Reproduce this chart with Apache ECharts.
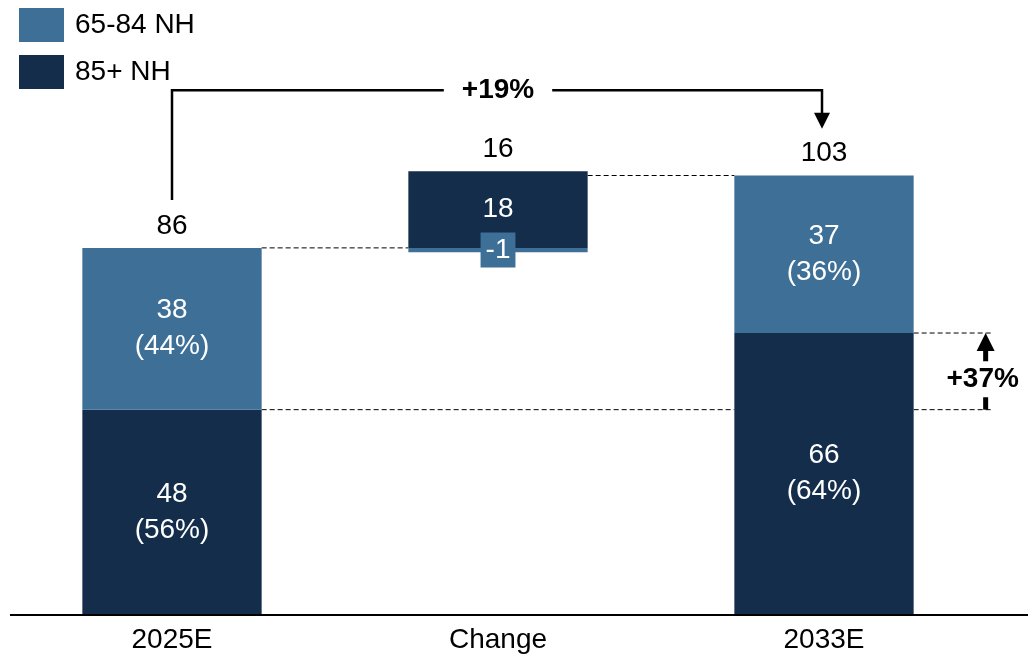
<!DOCTYPE html>
<html><head><meta charset="utf-8">
<script src="https://cdn.jsdelivr.net/npm/echarts@6/dist/echarts.min.js"></script>
<style>html,body{margin:0;padding:0;background:#fff}#c{width:1028px;height:658px}</style>
</head><body><div id="c"></div>
<script>
const categories = ['2025E', 'Change', '2033E'];
const baseVals = [0, 85, 0];            // invisible offset of the change bar
const lightChangeVals = ['-', 1, '-'];  // 65-84 NH change (drawn size)
const darkVals = [48, 18, 66];          // 85+ NH
const lightVals = [38, '-', 37];        // 65-84 NH
const darkLabels = ['48\n(56%)', '18', '66\n(64%)'];
const lightLabels = ['38\n(44%)', '-1', '37\n(36%)'];
const totalLabels = ['86', '16', '103'];
const totalGrowth = '+19%';
const oldGrowth = '+37%';
const totalStart = 86, totalEnd = 103, darkStart = 48, darkEnd = 66;

const LIGHT = '#3D6F97', DARK = '#132D4B';
const FONT = 'Liberation Sans, Arial, sans-serif';
const FS = 28;

const chart = echarts.init(document.getElementById('c'));
const lbl = (arr) => ({
  show: true, position: 'inside', color: '#fff', fontSize: FS, lineHeight: 36,
  fontFamily: FONT, formatter: p => arr[p.dataIndex]
});

chart.setOption({
  animation: false,
  textStyle: { fontFamily: FONT },
  legend: {
    orient: 'vertical', left: 19, top: 8, padding: 0, itemWidth: 45, itemHeight: 34, itemGap: 13,
    icon: 'rect', selectedMode: false,
    textStyle: { fontSize: FS, color: '#000', fontFamily: FONT, padding: [5, 0, 0, 6] },
    data: ['65-84 NH', '85+ NH']
  },
  grid: { left: 9, right: 41, top: 18, bottom: 44 },
  xAxis: {
    type: 'category', data: categories,
    axisLine: { show: false }, axisTick: { show: false },
    axisLabel: { fontSize: FS, color: '#000', margin: 12, fontFamily: FONT }
  },
  yAxis: { type: 'value', min: 0, max: 140, show: false, splitLine: { show: false } },
  series: [
    { name: 'base', type: 'bar', stack: 's', data: baseVals, barWidth: '55%',
      itemStyle: { color: 'transparent' }, silent: true },
    { name: '65-84 NH', type: 'bar', stack: 's', data: lightChangeVals,
      itemStyle: { color: LIGHT },
      label: Object.assign(lbl(lightLabels), { backgroundColor: LIGHT, padding: [4, 5, 3, 5], lineHeight: 28 }) },
    { name: '85+ NH', type: 'bar', stack: 's', data: darkVals,
      itemStyle: { color: DARK }, label: lbl(darkLabels) },
    { name: '65-84 NH', type: 'bar', stack: 's', data: lightVals,
      itemStyle: { color: LIGHT }, label: lbl(lightLabels) },
    { name: 'total', type: 'bar', stack: 's', data: [0, 0, 0],
      itemStyle: { color: 'transparent' },
      label: { show: true, position: 'top', distance: 8, color: '#000', fontSize: FS,
        fontFamily: FONT, formatter: p => totalLabels[p.dataIndex] } }
  ]
});

function px(ci, v) { return chart.convertToPixel({ gridIndex: 0 }, [ci, v]); }
const x0 = px(0, 0)[0], x1 = px(1, 0)[0], x2 = px(2, 0)[0];
const half = (x1 - x0) * 0.275;
const y0 = px(0, 0)[1];
const yT1 = px(0, totalStart)[1], yT2 = px(2, totalEnd)[1];
const yD1 = px(0, darkStart)[1], yD2 = px(2, darkEnd)[1];
const yBr = px(0, 123)[1], yTip = px(0, 114)[1];
const rightEnd = x2 + half + 80, arrX = x2 + half + 72;
const dash = { stroke: '#000', lineWidth: 1, lineDash: [5, 3] };
const G = [];
function line(a, b, c, d, style) { G.push({ type: 'line', shape: { x1: a, y1: b, x2: c, y2: d }, style, z: 1 }); }
// axis line
line(x0 - (x1 - x0) / 2 + 1, y0 + 1, 1028, y0 + 1, { stroke: '#000', lineWidth: 2 });
// dashed connectors
line(x0 + half, yT1, x1 - half, yT1, dash);
line(x1 + half, yT2, x2 - half, yT2, dash);
line(x0 + half, yD1, x2 - half, yD1, dash);
line(x2 + half, yD1, rightEnd, yD1, dash);
line(x2 + half, yD2, rightEnd, yD2, dash);
// +19% bracket
G.push({ type: 'polyline', shape: { points: [[x0, yT1 - 48], [x0, yBr], [x2 - 2, yBr], [x2 - 2, yTip - 14]] },
  style: { stroke: '#000', lineWidth: 2.5, fill: null }, z: 3 });
G.push({ type: 'polygon', shape: { points: [[x2 - 10, yTip - 16], [x2 + 6, yTip - 16], [x2 - 2, yTip]] },
  style: { fill: '#000' }, z: 3 });
G.push({ type: 'text', x: x1, y: yBr, z: 4,
  style: { text: totalGrowth, fontSize: FS, fontWeight: 'bold', fontFamily: FONT, fill: '#000',
    align: 'center', verticalAlign: 'middle', backgroundColor: '#fff', padding: [2, 18] } });
// +37% arrow
line(arrX, yD1, arrX, yD2 + 16, { stroke: '#000', lineWidth: 5 });
G.push({ type: 'polygon', shape: { points: [[arrX - 9, yD2 + 18], [arrX + 9, yD2 + 18], [arrX, yD2]] },
  style: { fill: '#000' }, z: 3 });
G.push({ type: 'text', x: arrX - 3, y: (yD1 + yD2) / 2 + 8, z: 4,
  style: { text: oldGrowth, fontSize: FS, fontWeight: 'bold', fontFamily: FONT, fill: '#000',
    align: 'center', verticalAlign: 'middle', backgroundColor: '#fff', padding: [4, 2] } });
chart.setOption({ graphic: G });
</script></body></html>
